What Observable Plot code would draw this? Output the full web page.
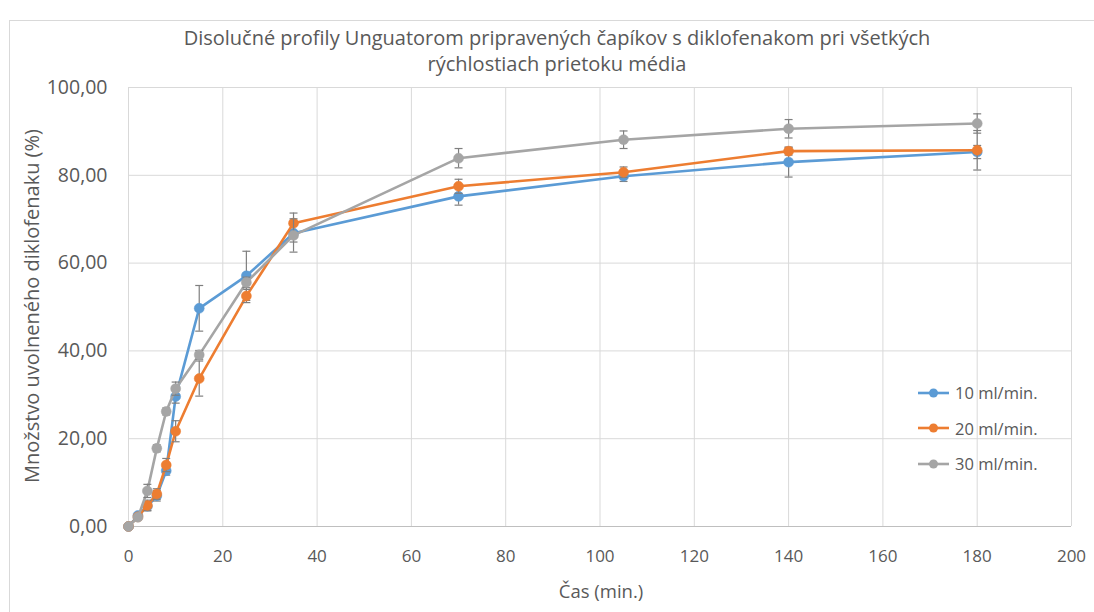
<!DOCTYPE html>
<html>
<head>
<meta charset="utf-8">
<script src="https://cdn.jsdelivr.net/npm/d3@7"></script>
<script src="https://cdn.jsdelivr.net/npm/@observablehq/plot@0.6"></script>
<style>
  html, body { margin: 0; padding: 0; background: #fff; }
  #wrap { position: relative; width: 1094px; height: 612px; overflow: hidden; font-family: "Open Sans", Lato, sans-serif; color: #595959; }
  #border { position: absolute; left: 9px; top: 20px; width: 1100px; height: 600px; border: 1px solid #d9d9d9; box-sizing: border-box; }
  #title { position: absolute; left: 0; width: 1114px; top: 25px; text-align: center; font-size: 20px; line-height: 26px; color: #595959; }
  #ylabel { position: absolute; left: 31px; top: 306px; transform: translate(-50%, -50%) rotate(-90deg); white-space: nowrap; font-size: 20px; color: #595959; }
  #xlabel { position: absolute; left: 601px; top: 590px; transform: translate(-50%, -50%); white-space: nowrap; font-size: 18.5px; color: #595959; }
  #legend { position: absolute; left: 918px; top: 375px; font-size: 16.5px; color: #595959; }
  .li { display: flex; align-items: center; height: 35.5px; }
  .li svg { margin-right: 6px; }
  #chart { position: absolute; left: 0; top: 0; }
</style>
</head>
<body>
<div id="wrap">
  <div id="border"></div>
  <div id="chart"></div>
  <div id="title">Disolučné profily Unguatorom pripravených čapíkov s diklofenakom pri všetkých<br>rýchlostiach prietoku média</div>
  <div id="ylabel">Množstvo uvolneného diklofenaku (%)</div>
  <div id="xlabel">Čas (min.)</div>
  <div id="legend"></div>
</div>
<script>
const time = [0, 2, 4, 6, 8, 10, 15, 25, 35, 70, 105, 140, 180];
const seriesNames = ["10 ml/min.", "20 ml/min.", "30 ml/min."];
const seriesColors = ["#5B9BD5", "#ED7D31", "#A5A5A5"];
const values10 = [0, 2.5, 4.6, 7.0, 12.7, 29.6, 49.7, 57.1, 66.8, 75.2, 79.8, 83.0, 85.3];
const errors10 = [0, 0.5, 1.0, 1.2, 1.0, 1.5, 5.2, 5.6, 2.0, 2.0, 1.2, 3.4, 1.5];
const values20 = [0, 2.2, 4.8, 7.4, 14.0, 21.7, 33.7, 52.5, 69.1, 77.5, 80.7, 85.5, 85.7];
const errors20 = [0, 0.5, 1.2, 1.2, 1.5, 2.4, 4.0, 1.5, 2.3, 1.6, 1.2, 0.9, 4.5];
const values30 = [0, 2.1, 8.1, 17.8, 26.2, 31.4, 39.1, 55.6, 66.3, 83.9, 88.1, 90.6, 91.8];
const errors30 = [0, 0.5, 1.5, 0.8, 0.8, 1.5, 1.0, 1.2, 3.8, 2.2, 2.0, 2.1, 2.2];
const yTicks = [0, 20, 40, 60, 80, 100];
const xTicks = [0, 20, 40, 60, 80, 100, 120, 140, 160, 180, 200];

const allValues = [values10, values20, values30];
const allErrors = [errors10, errors20, errors30];
const rows = [];
seriesNames.forEach((name, si) => {
  time.forEach((t, i) => {
    rows.push({series: name, t, v: allValues[si][i], e: allErrors[si][i]});
  });
});

const capSymbol = {
  draw(context, size) {
    const r = Math.sqrt(size) / 2;
    context.moveTo(-r, 0);
    context.lineTo(r, 0);
  }
};

const fmt = d => d.toFixed(2).replace(".", ",");

const marks = [
  Plot.gridX(xTicks, {stroke: "#d9d9d9", strokeOpacity: 1, strokeWidth: 1}),
  Plot.gridY(yTicks, {stroke: "#d9d9d9", strokeOpacity: 1, strokeWidth: 1}),
  Plot.ruleY([0], {stroke: "#bfbfbf", strokeWidth: 1}),
  Plot.axisX({ticks: xTicks, tickSize: 0, tickPadding: 23, fontSize: 17, tickFormat: d => String(d), label: null, color: "#595959"}),
  Plot.axisY({ticks: yTicks, tickSize: 0, tickPadding: 21, fontSize: 19.5, tickFormat: fmt, label: null, color: "#595959"})
];

seriesNames.forEach((name, si) => {
  const data = rows.filter(r => r.series === name);
  const eb = data.filter(r => r.e > 0);
  marks.push(
    Plot.line(data, {x: "t", y: "v", stroke: seriesColors[si], strokeWidth: 2.6}),
    Plot.ruleX(eb, {x: "t", y1: d => d.v - d.e, y2: d => d.v + d.e, stroke: "#7f7f7f", strokeWidth: 1.2}),
    Plot.dot(eb, {x: "t", y: d => d.v - d.e, symbol: capSymbol, r: 4.5, stroke: "#7f7f7f", strokeWidth: 1.2, fill: "none"}),
    Plot.dot(eb, {x: "t", y: d => d.v + d.e, symbol: capSymbol, r: 4.5, stroke: "#7f7f7f", strokeWidth: 1.2, fill: "none"}),
    Plot.dot(data, {x: "t", y: "v", r: 5, fill: seriesColors[si], stroke: seriesColors[si], strokeWidth: 0.5})
  );
});

const chart = Plot.plot({
  width: 1094,
  height: 612,
  marginLeft: 128,
  marginRight: 23,
  marginTop: 87,
  marginBottom: 86,
  style: {fontFamily: "'Open Sans', Lato, sans-serif", background: "transparent", overflow: "visible"},
  x: {domain: [0, 200], label: null},
  y: {domain: [0, 100], label: null},
  marks
});
document.getElementById("chart").appendChild(chart);

const legend = document.getElementById("legend");
seriesNames.forEach((name, si) => {
  const div = document.createElement("div");
  div.className = "li";
  div.innerHTML = `<svg width="31" height="12"><line x1="0" y1="6" x2="31" y2="6" stroke="${seriesColors[si]}" stroke-width="2.6"/><circle cx="15.5" cy="6" r="4.5" fill="${seriesColors[si]}"/></svg><span>${name}</span>`;
  legend.appendChild(div);
});
</script>
</body>
</html>
